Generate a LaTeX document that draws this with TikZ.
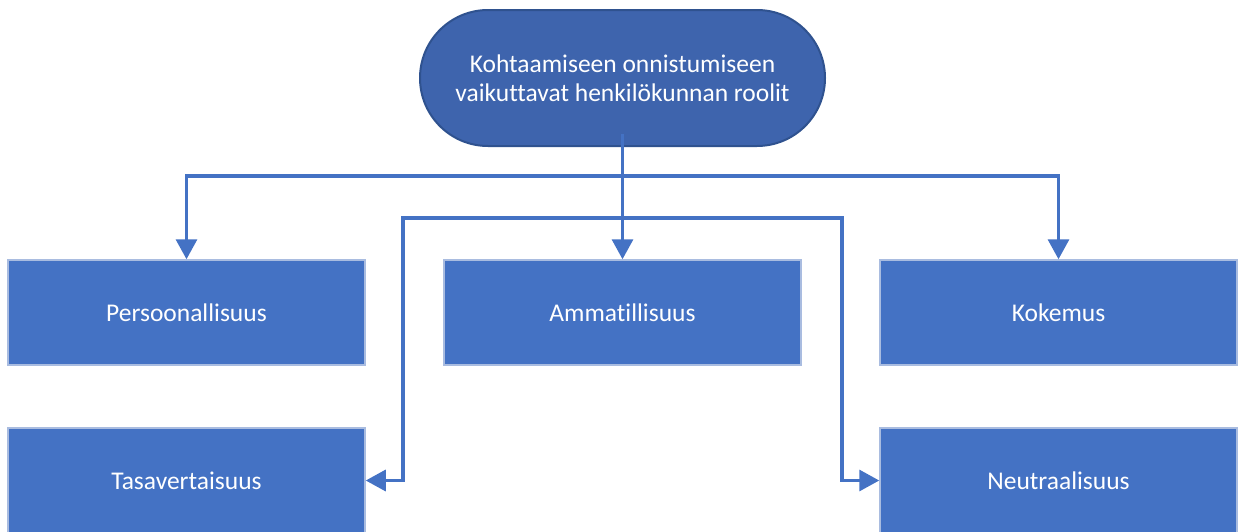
\documentclass[tikz,border=0pt]{standalone}
\usepackage{fontspec}
\setmainfont{Carlito}[Ligatures=NoCommon]
\usetikzlibrary{arrows.meta,calc}
\definecolor{boxblue}{HTML}{4472C4}
\definecolor{topblue}{HTML}{3E64AD}
\definecolor{topedge}{HTML}{2F528F}
\definecolor{boxedge}{HTML}{A9BCE0}
\begin{document}
\begin{tikzpicture}[x=1pt,y=-1pt,
  rolebox/.style={draw=boxedge,line width=1.5pt,fill=boxblue,text=white,
    minimum width=357pt,minimum height=105pt,inner sep=0pt,
    font=\fontsize{25.5}{30}\selectfont},
  headbox/.style={draw=topedge,line width=2pt,fill=topblue,text=white,
    minimum width=405pt,minimum height=136pt,rounded corners=68pt,
    align=center,font=\fontsize{25.5}{29.5}\selectfont},
  conn/.style={draw=boxblue,line width=3.3pt,
    -{Triangle[width=21pt,length=20pt]}},
  conn2/.style={draw=boxblue,line width=3.3pt,
    {Triangle[width=21pt,length=20pt]}-{Triangle[width=21pt,length=20pt]}}]
\useasboundingbox (0,0) rectangle (1240,531);

% head node and the five role boxes
\node[headbox] (top) at (622.5,78) {Kohtaamiseen onnistumiseen\\vaikuttavat henkilökunnan roolit};
\node[rolebox] (pers) at (186.5,312.5) {Persoonallisuus};
\node[rolebox] (amm)  at (622.5,312.5) {Ammatillisuus};
\node[rolebox] (kok)  at (1058.5,312.5) {Kokemus};
\node[rolebox] (tas)  at (186.5,480.5) {Tasavertaisuus};
\node[rolebox] (neu)  at (1058.5,480.5) {Neutraalisuus};

% tree connectors from the head node
\coordinate (stem) at ($(top.south)+(0,-13)$);
\coordinate (fork) at (622.5,176);
\draw[conn] (stem) -- (amm.north);
\draw[conn] (fork) -| (pers.north);
\draw[conn] (fork) -| (kok.north);

% bracket linking the two lower boxes
\coordinate (bl) at (403,218);
\coordinate (br) at (842,218);
\draw[conn2,line join=miter] (tas.east) -| (bl) -- (br) |- (neu.west);
\end{tikzpicture}
\end{document}
